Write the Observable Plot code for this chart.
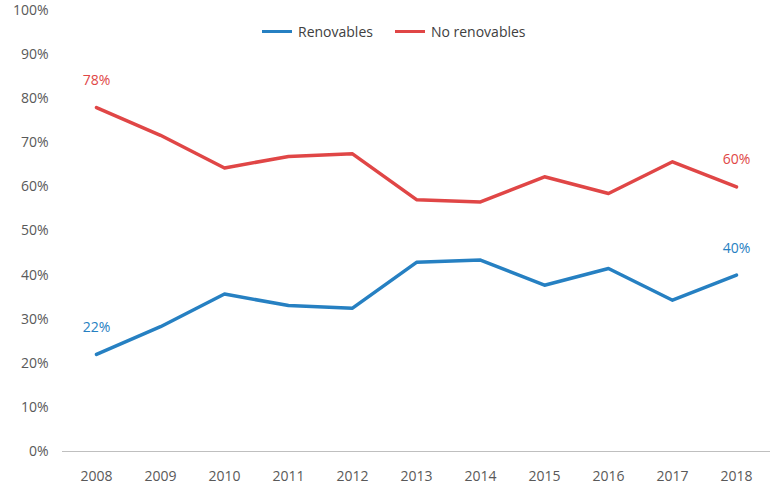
<!DOCTYPE html>
<html><head><meta charset="utf-8">
<script src="https://cdn.jsdelivr.net/npm/d3@7"></script>
<script src="https://cdn.jsdelivr.net/npm/@observablehq/plot@0.6"></script>
<style>
body{margin:0;background:#fff;font-family:"Open Sans",sans-serif;}
#wrap{position:relative;width:779px;height:489px;overflow:hidden}
#legend{position:absolute;top:22px;left:262px;font-size:14px;color:#404040;display:flex;gap:22px}
#legend span{display:flex;align-items:center;gap:6px}
#legend i{display:inline-block;width:30px;height:3px}
</style></head><body>
<div id="wrap"><div id="legend"><span><i style="background:#2680c2"></i>Renovables</span><span><i style="background:#e04646"></i>No renovables</span></div></div>
<script>
const years = ["2008","2009","2010","2011","2012","2013","2014","2015","2016","2017","2018"];
const noRenov = [78,71.7,64.3,66.9,67.5,57.1,56.6,62.3,58.5,65.7,60];
const renov = [22,28.3,35.7,33.1,32.5,42.9,43.4,37.7,41.5,34.3,40];
const data = [
  ...years.map((y,i)=>({year:y,v:renov[i],s:"Renovables"})),
  ...years.map((y,i)=>({year:y,v:noRenov[i],s:"No renovables"}))
];
const colors = {"Renovables":"#2680c2","No renovables":"#e04646"};
const labels = [
  {year:"2008",v:renov[0],s:"Renovables"},{year:"2018",v:renov[10],s:"Renovables"},
  {year:"2008",v:noRenov[0],s:"No renovables"},{year:"2018",v:noRenov[10],s:"No renovables"}
];
const chart = Plot.plot({
  width:779,height:489,marginLeft:62,marginRight:9,marginTop:10,marginBottom:38,
  style:{fontFamily:"Open Sans",fontSize:"14px",color:"#595959"},
  x:{type:"point",domain:years,padding:0.5,label:null,tickSize:0,tickPadding:20},
  y:{domain:[0,100],ticks:d3.range(0,101,10),tickFormat:d=>d+"%",label:null,tickSize:0,tickPadding:14},
  marks:[
    Plot.ruleY([0],{stroke:"#bfbfbf"}),
    Plot.line(data,{x:"year",y:"v",z:"s",stroke:d=>colors[d.s],strokeWidth:3.5}),
    Plot.text(labels,{x:"year",y:"v",text:d=>Math.round(d.v)+"%",fill:d=>colors[d.s],dy:-27,fontSize:14})
  ]
});
document.getElementById("wrap").prepend(chart);
</script></body></html>
